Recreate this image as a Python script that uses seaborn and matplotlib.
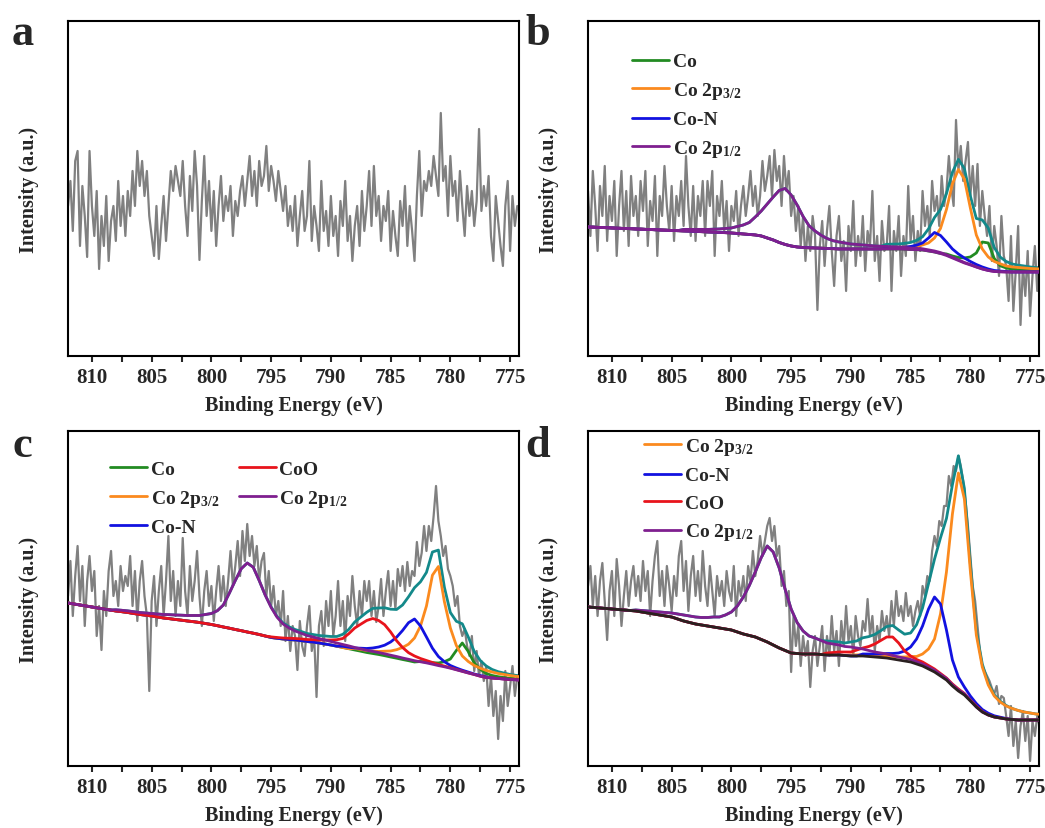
import numpy as np
import matplotlib
matplotlib.use("Agg")
import matplotlib.pyplot as plt
from matplotlib.ticker import MultipleLocator, FormatStrFormatter
import seaborn as sns

# --- Energy axes (eV) ---
raw_energy = np.round(np.arange(812.0, 774.1, -0.2), 2)    # measured points, 812 -> 774.2
fit_energy = np.round(np.arange(812.0, 773.9, -0.5), 1)    # fitted curves, 812 -> 774

# --- Measured spectra (a.u.), 0.2 eV step ---
a_raw = [150, 175, 125, 195, 205, 110, 170, 140, 99, 205, 150, 120, 165, 87, 140, 110, 160, 95, 135, 150, 115, 175, 130, 160, 120,
         165, 140, 185, 150, 205, 170, 195, 160, 185, 140, 120, 100, 150, 97, 130, 160, 115, 150, 185, 165, 190, 175, 160, 195, 150,
         120, 180, 145, 205, 170, 96, 155, 200, 140, 175, 125, 165, 110, 150, 180, 135, 160, 145, 170, 120, 155, 140, 165, 180, 150,
         175, 200, 160, 185, 150, 195, 170, 180, 210, 165, 190, 175, 155, 185, 165, 145, 170, 130, 150, 125, 160, 110, 140, 165, 125,
         140, 195, 115, 150, 130, 105, 175, 125, 145, 110, 160, 120, 140, 100, 155, 130, 175, 115, 140, 95, 130, 150, 110, 165, 125,
         150, 185, 130, 190, 140, 160, 115, 150, 135, 165, 105, 145, 120, 100, 155, 130, 170, 110, 150, 125, 95, 160, 205, 140, 175,
         165, 185, 170, 200, 180, 160, 243, 175, 190, 140, 200, 160, 175, 135, 185, 150, 120, 170, 140, 165, 130, 155, 227, 145, 170,
         150, 180, 120, 95, 160, 135, 110, 90, 150, 175, 105, 160, 130, 150, 145]

b_raw = [165, 120, 185, 150, 105, 170, 140, 190, 115, 160, 135, 175, 100, 150, 185, 125, 165, 110, 180, 140, 160, 120, 175, 145, 185,
         110, 155, 135, 180, 100, 160, 140, 190, 150, 125, 170, 115, 160, 140, 175, 130, 200, 150, 120, 170, 115, 160, 140, 175, 120,
         175, 150, 185, 100, 160, 140, 175, 125, 155, 105, 150, 135, 165, 120, 150, 170, 140, 160, 185, 150, 170, 140, 160, 195, 165,
         180, 200, 160, 206, 175, 190, 150, 200, 165, 185, 140, 160, 125, 150, 110, 140, 95, 130, 105, 140, 120, 46, 110, 135, 90,
         125, 150, 105, 70, 120, 140, 95, 115, 65, 130, 105, 155, 90, 120, 100, 140, 85, 125, 110, 165, 95, 120, 75, 135, 105,
         110, 150, 65, 125, 105, 140, 80, 120, 100, 170, 115, 140, 95, 125, 105, 165, 130, 150, 120, 175, 145, 160, 130, 180, 150,
         165, 200, 170, 150, 236, 185, 210, 175, 195, 214, 160, 190, 150, 192, 130, 165, 140, 120, 150, 95, 130, 110, 80, 140, 100,
         90, 55, 120, 45, 85, 130, 31, 90, 60, 105, 40, 80, 110, 65, 95]

c_raw = [170, 205, 150, 190, 220, 165, 200, 140, 185, 210, 175, 195, 130, 160, 116, 175, 150, 195, 215, 170, 185, 160, 200, 175, 190,
         180, 210, 160, 195, 145, 185, 205, 170, 150, 75, 165, 190, 140, 175, 200, 150, 185, 230, 165, 195, 150, 185, 160, 228, 175,
         150, 200, 165, 185, 215, 170, 140, 175, 195, 160, 180, 145, 175, 200, 165, 190, 160, 185, 215, 180, 200, 225, 190, 235, 205,
         242, 210, 230, 200, 220, 185, 205, 213, 170, 195, 160, 180, 150, 165, 140, 175, 125, 150, 115, 140, 130, 96, 145, 120, 110,
         140, 160, 115, 130, 69, 140, 155, 120, 165, 140, 175, 130, 150, 185, 140, 165, 125, 170, 150, 190, 160, 140, 175, 150, 185,
         165, 185, 150, 175, 144, 160, 187, 150, 175, 195, 160, 185, 157, 197, 180, 200, 175, 204, 180, 195, 190, 224, 200, 213, 240,
         215, 240, 225, 250, 280, 245, 230, 210, 220, 197, 190, 180, 160, 170, 140, 130, 137, 120, 110, 130, 95, 115, 90, 105, 85,
         100, 60, 90, 50, 75, 27, 70, 45, 95, 60, 80, 100, 70, 90, 85]

d_raw = [180, 200, 160, 190, 150, 185, 203, 165, 126, 175, 195, 150, 207, 180, 140, 170, 195, 160, 185, 200, 170, 190, 165, 205, 175,
         195, 150, 185, 210, 225, 170, 195, 160, 200, 180, 155, 190, 170, 210, 225, 175, 205, 155, 190, 210, 170, 195, 165, 215, 180,
         160, 200, 175, 150, 190, 170, 185, 160, 195, 175, 165, 200, 150, 185, 170, 190, 165, 200, 185, 215, 190, 205, 230, 210, 225,
         240, 248, 225, 240, 210, 220, 180, 195, 160, 175, 94, 150, 120, 140, 100, 130, 110, 125, 79, 115, 130, 100, 120, 140, 95,
         130, 110, 150, 115, 135, 100, 145, 120, 160, 125, 140, 110, 150, 130, 120, 145, 135, 167, 130, 150, 115, 140, 125, 155, 135,
         150, 130, 165, 140, 175, 150, 160, 145, 173, 150, 160, 140, 155, 165, 150, 180, 170, 190, 185, 215, 230, 220, 245, 240, 260,
         260, 290, 280, 300, 295, 310, 300, 285, 265, 240, 210, 180, 165, 140, 115, 100, 95, 90, 85, 78, 72, 80, 62, 70, 68,
         50, 30, 60, 20, 45, 8, 40, 55, 25, 50, 5, 45, 30, 50, 40]

# --- Fitted backgrounds, 812 -> 774 eV (0.5 eV step) ---
b_bg = [129, 128.8, 128.5, 128.3, 128, 127.8, 127.5, 127.3, 127, 126.8,
        126.5, 126.3, 126, 125.8, 125.5, 125.3, 125, 124.8, 124.5, 124.3,
        124, 123.8, 123.5, 123.3, 123, 122.5, 122, 121.5, 121, 120,
        118, 116, 113.5, 111.5, 110, 109, 108.5, 108.2, 108, 107.8,
        107.5, 107.3, 107, 107, 107, 107, 107, 107, 107, 107,
        107, 107, 107, 106.8, 106.5, 106.3, 106, 105, 104, 102.5,
        100.5, 98, 95.5, 93, 91, 89, 87, 85.5, 84.5, 84.2,
        84, 84, 84, 84, 84, 84, 84]

c_bg = [163, 162, 161, 160, 159, 158, 157, 156, 155, 154.3,
        153.5, 152.5, 151.5, 150.8, 150, 149, 148, 147.3, 146.5, 145.8,
        145, 144.3, 143.5, 142.5, 141.5, 140.3, 139, 137.8, 136.5, 135.3,
        134, 132.8, 131.5, 130, 128.5, 127.7, 127, 126.5, 126, 125.3,
        124.5, 123.8, 123, 122, 121, 119.8, 118.5, 117.3, 116, 114.8,
        113.5, 112.5, 111.5, 110.3, 109, 107.8, 106.5, 105.3, 104, 103,
        102, 100.8, 99.5, 98.3, 97, 95.5, 94, 92.5, 91, 89.8,
        88.5, 88, 87.5, 87, 86.5, 86.2, 86]

d_bg = [159, 158.5, 158, 157.5, 157, 156.5, 156, 155.5, 155, 154,
        153, 152, 151, 150, 149, 147, 145, 143.5, 142, 141,
        140, 139, 138, 137, 136, 134, 132, 130.5, 129, 126.5,
        124, 121, 118, 115.5, 113, 112.5, 112, 112, 112, 111.5,
        111, 111, 111, 110.5, 110, 110, 110, 109.5, 109, 108.5,
        108, 107, 106, 105, 104, 102, 100, 97, 94, 90,
        86, 80, 75, 71, 65, 59, 54, 51, 49, 48,
        47, 46.5, 46, 46, 46, 46, 46]

# --- Fitted peaks: start energy and heights above background (0.5 eV step) ---
b_co_start, b_co = 782.0, [1.5, 2, 3, 5, 8, 14, 27, 27.5, 13, 6, 4, 3, 2.3, 2, 1.5, 1.2, 1]
b_p32_start, b_p32 = 787.0, [1.2, 1.4, 1.5, 2, 2.5, 3.5, 5, 8, 14, 25, 46, 74, 91, 84, 57, 32, 20,
                             13.5, 10, 8, 6, 5, 4.5, 4, 3.5, 3.2, 3]
b_con_start, b_con = 787.0, [1, 1.2, 1.5, 2, 3, 4.5, 7, 13, 19.5, 18, 13.5, 9, 6.5, 5, 3.5, 2.5, 2,
                             1.5, 1, 0.7, 0.5]
b_p12_start, b_p12 = 804.0, [1.5, 1.8, 2, 2.3, 2.5, 3, 3.5, 4.2, 5, 7, 9, 12, 18, 25, 34, 43, 52, 56,
                             51, 42, 31, 22, 17, 13, 10, 8, 7, 6, 5, 4.5, 4, 3.5, 3, 2.7, 2.5, 2.2,
                             2, 1.8, 1.5, 1.3, 1.2, 1.1, 1, 0.9, 0.8, 0.7, 0.6, 0.5, 0.5]

c_co_start, c_co = 782.5, [1.5, 2, 2.5, 3.5, 6, 10, 20, 29, 22, 12, 7, 4, 2.5, 1.8, 1.4, 1, 0.9, 0.8]
c_coo_start, c_coo = 795.0, [0.6, 0.8, 1, 1.2, 1.5, 1.8, 2, 2.5, 3, 4, 5, 6.5, 9, 15, 22, 27, 32, 35,
                             34, 31, 25, 17.5, 12, 8, 6, 4.5, 3.5, 2.7, 2, 1.6, 1.2, 1, 0.8, 0.6, 0.5]
c_p32_start, c_p32 = 788.0, [1.5, 1.8, 2, 2.5, 3, 4.5, 6, 8.5, 12, 16.5, 24, 37, 58, 90, 100, 66, 41,
                             25, 16, 12, 9.5, 8, 7, 6, 5, 4.5, 4, 3.5, 3]
c_con_start, c_con = 789.0, [1.2, 1.5, 2, 3, 4, 5.5, 7.5, 10.5, 15, 21, 29, 38, 43, 37, 27, 17, 10, 6,
                             3.5, 2.5, 1.8, 1.4, 1, 0.7, 0.5]
c_p12_start, c_p12 = 808.0, [1.2, 1.4, 1.6, 1.8, 2, 2.2, 2.5, 3, 3.5, 4, 4.5, 5, 5.5, 6.2, 7, 9, 11,
                             15, 22, 35, 49, 62, 69, 66, 54, 41, 30, 21, 15, 11.5, 9, 7.5, 6, 5.2,
                             4.5, 4, 3.5, 3.2, 3, 2.8, 2.5, 2.3, 2.2, 2.1, 2, 1.9, 1.8, 1.7, 1.5,
                             1.4, 1.3, 1.2, 1.1, 1, 0.9, 0.9, 0.8, 0.7, 0.6, 0.5, 0.5]

d_p32_start, d_p32 = 790.0, [1, 1.1, 1.2, 1.4, 1.5, 1.8, 2, 2.5, 3, 4, 5.5, 7.5, 12, 20, 33, 62, 108,
                             172, 218, 196, 130, 72, 45, 30, 21, 16, 13, 11, 9.5, 8, 7, 6, 5.5]
d_con_start, d_con = 789.0, [2, 2.5, 3, 3.5, 4.5, 5.5, 7, 10, 15, 25, 40, 60, 75, 72, 50, 26, 14, 8, 5,
                             3.5, 2.5, 1.8, 1.2, 0.8, 0.5]
d_coo_start, d_coo = 792.0, [2, 2.5, 3, 3.5, 4, 6, 8, 10, 13, 17, 21, 22, 17, 10, 6, 4.5, 4, 3.5, 3,
                             2.5, 2, 2, 2, 1.5, 1, 0.8, 0.5]
d_p12_start, d_p12 = 808.0, [1, 1.5, 2, 2.5, 3, 3.5, 4, 5, 6, 6.5, 7, 7.5, 8.5, 10, 11, 14, 18, 26, 37,
                             50, 65, 82, 96, 93, 80, 61, 44, 31, 23, 18, 16, 14, 12, 11, 10, 9, 9, 8,
                             7, 6, 5, 4.5, 4, 3.5, 3, 2.8, 2.5, 2.3, 2, 1.9, 1.8, 1.6, 1.5, 1.3, 1.2,
                             1.1, 1]

# --- Style ---
GRAY = '#808080'
TEAL = '#13898a'
GREEN = '#228b22'
ORANGE = '#fb8a1e'
BLUE = '#1212e0'
PURPLE = '#7f1f8f'
RED = '#e8141c'
DARK = '#2a2020'

sns.set_style('ticks')
plt.rcParams['font.family'] = ['Liberation Serif', 'DejaVu Serif']
plt.rcParams['font.weight'] = 'bold'
plt.rcParams['axes.linewidth'] = 1.5
plt.rcParams['mathtext.fontset'] = 'custom'
plt.rcParams['mathtext.rm'] = 'Liberation Serif:bold'
plt.rcParams['mathtext.it'] = 'Liberation Serif:bold'
plt.rcParams['mathtext.bf'] = 'Liberation Serif:bold'

P32 = 'Co 2p$_{3/2}$'
P12 = 'Co 2p$_{1/2}$'


def on_grid(start, heights):
    """Place a peak (heights above background) onto the full fit grid."""
    full = np.zeros(len(fit_energy))
    i0 = int(round((fit_energy[0] - start) / 0.5))
    full[i0:i0 + len(heights)] = heights
    return full


def line(ax, x, y, color, lw, z):
    sns.lineplot(x=x, y=np.asarray(y, float), ax=ax, color=color, linewidth=lw,
                 sort=False, estimator=None, zorder=z)
    return ax.lines[-1]


def style_axes(ax):
    ax.set_xlim(812, 774.25)
    ax.set_ylim(0, 335)
    ax.xaxis.set_major_locator(MultipleLocator(5))
    ax.xaxis.set_minor_locator(MultipleLocator(2.5))
    ax.xaxis.set_major_formatter(FormatStrFormatter('%d'))
    ax.tick_params(axis='x', which='both', direction='out', length=4, width=1.5,
                   bottom=True, top=False, labelsize=15, pad=4)
    ax.tick_params(axis='y', which='both', left=False, right=False, labelleft=False)
    for lab in ax.get_xticklabels():
        lab.set_fontweight('bold')
    for s in ax.spines.values():
        s.set_visible(True)
        s.set_linewidth(1.5)
        s.set_color('black')
    ax.set_xlabel('Binding Energy (eV)', fontsize=14.5, fontweight='bold', labelpad=6)
    ax.set_ylabel('Intensity (a.u.)', fontsize=14.5, fontweight='bold', labelpad=21)


def draw_fit(ax, raw, bg, comps, bg_color=None):
    line(ax, raw_energy, raw, GRAY, 1.6, 1)
    bg = np.asarray(bg, float)
    envelope = bg + sum(on_grid(s, h) for _, _, s, h in comps)
    line(ax, fit_energy, envelope, TEAL, 2.0, 2)
    handles = {}
    for label, color, start, heights in comps:
        handles[label] = line(ax, fit_energy, bg + on_grid(start, heights), color, 2.0, 3)
    if bg_color:
        line(ax, fit_energy, bg, bg_color, 2.0, 4)
    return handles


fig = plt.figure(figsize=(10.45, 8.29), dpi=100)
ax_a = fig.add_axes([0.0651, 0.5694, 0.4316, 0.4041])
ax_b = fig.add_axes([0.5627, 0.5694, 0.4316, 0.4041])
ax_c = fig.add_axes([0.0651, 0.0748, 0.4316, 0.4041])
ax_d = fig.add_axes([0.5627, 0.0748, 0.4316, 0.4041])

legend_font = {'family': 'Liberation Serif', 'weight': 'bold', 'size': 14}
legend_kw = dict(loc='upper left', frameon=False, prop=legend_font, handlelength=1.9,
                 handletextpad=0.2, labelspacing=0.5, borderpad=0, borderaxespad=0)

# a: raw spectrum only
line(ax_a, raw_energy, a_raw, GRAY, 1.6, 1)

# b
hb = draw_fit(ax_b, b_raw, b_bg, [
    ('Co', GREEN, b_co_start, b_co),
    (P32, ORANGE, b_p32_start, b_p32),
    ('Co-N', BLUE, b_con_start, b_con),
    (P12, PURPLE, b_p12_start, b_p12),
], bg_color=PURPLE)
order_b = ['Co', P32, 'Co-N', P12]
ax_b.legend([hb[k] for k in order_b], order_b, bbox_to_anchor=(0.097, 0.905), **legend_kw)

# c
hc = draw_fit(ax_c, c_raw, c_bg, [
    ('Co', GREEN, c_co_start, c_co),
    (P32, ORANGE, c_p32_start, c_p32),
    ('Co-N', BLUE, c_con_start, c_con),
    ('CoO', RED, c_coo_start, c_coo),
    (P12, PURPLE, c_p12_start, c_p12),
])
order_c = ['Co', P32, 'Co-N', 'CoO', P12]
ax_c.legend([hc[k] for k in order_c], order_c, bbox_to_anchor=(0.093, 0.912),
            ncol=2, columnspacing=1.0, **legend_kw)

# d
hd = draw_fit(ax_d, d_raw, d_bg, [
    (P32, ORANGE, d_p32_start, d_p32),
    ('Co-N', BLUE, d_con_start, d_con),
    ('CoO', RED, d_coo_start, d_coo),
    (P12, PURPLE, d_p12_start, d_p12),
], bg_color=DARK)
order_d = [P32, 'Co-N', 'CoO', P12]
ax_d.legend([hd[k] for k in order_d], order_d, bbox_to_anchor=(0.124, 0.985), **legend_kw)

for ax in (ax_a, ax_b, ax_c, ax_d):
    style_axes(ax)

for letter, x, y in [('a', 0.0115, 0.9457), ('b', 0.5024, 0.9457),
                     ('c', 0.0115, 0.4487), ('d', 0.5024, 0.4487)]:
    fig.text(x, y, letter, fontsize=32, fontweight='bold', va='baseline', ha='left')

fig.savefig('out.png', dpi=100)
